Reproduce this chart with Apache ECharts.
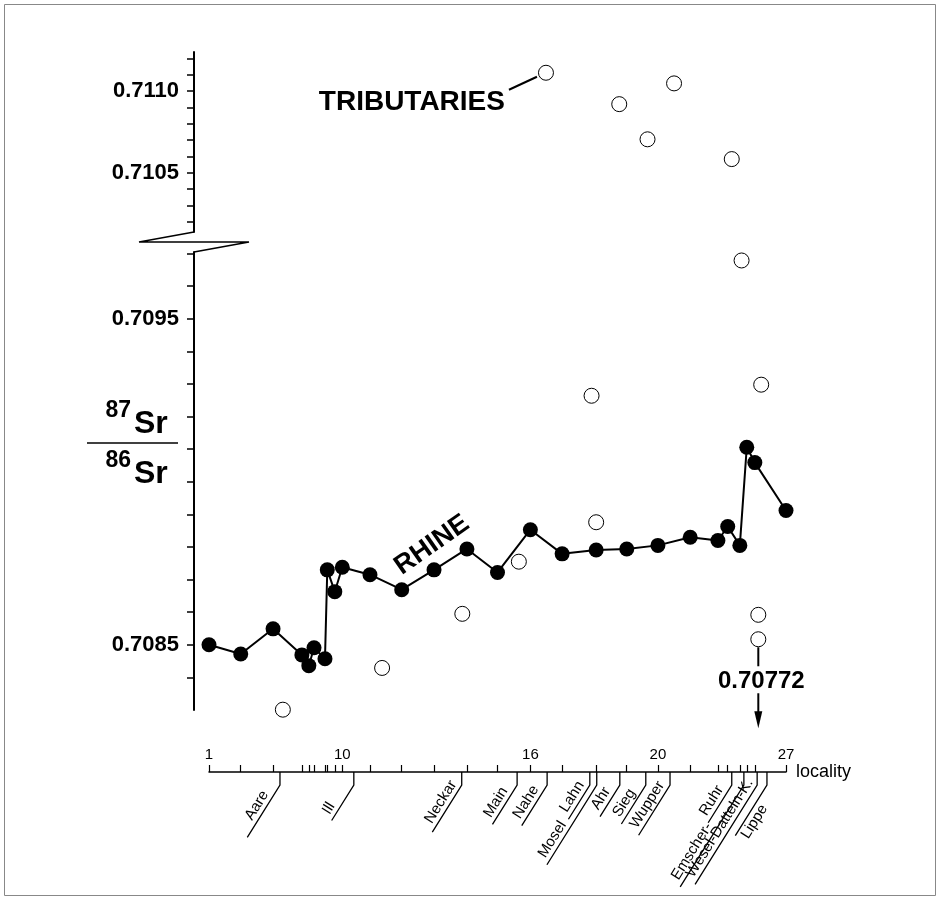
<!DOCTYPE html>
<html>
<head>
<meta charset="utf-8">
<title>87Sr/86Sr along the Rhine</title>
<script src="https://cdn.jsdelivr.net/npm/echarts@6.0.0/dist/echarts.min.js"></script>
<style>
  html, body { margin: 0; padding: 0; background: #fff; }
  #chart { width: 941px; height: 901px; }
</style>
</head>
<body>
<div id="chart"></div>
<script>
// sampling localities along the river, position in % of the drawn river section
const localities = [1, 2, 3, 4, 5, 6, 7, 8, 9, 10, 11, 12, 13, 14, 15, 16, 17, 18, 19, 20, 21, 22, 23, 24, 25, 26, 27];
const locPos = [0, 5.5, 11.1, 16.1, 17.3, 18.2, 20.1, 20.5, 21.8, 23.1, 27.9, 33.4, 39.0, 44.7, 50.0, 55.7,
  61.2, 67.1, 72.4, 77.8, 83.4, 88.2, 89.9, 92.0, 93.2, 94.6, 100];
const labelledLocalities = [1, 10, 16, 20, 27];

// Rhine main stream 87Sr/86Sr
const rhineSr = [0.708500, 0.708472, 0.708549, 0.708469, 0.708436, 0.708491, 0.708457, 0.708730, 0.708663,
  0.708738, 0.708715, 0.708669, 0.708730, 0.708794, 0.708722, 0.708853, 0.708779, 0.708791, 0.708794,
  0.708805, 0.708830, 0.708820, 0.708863, 0.708805, 0.709106, 0.709059, 0.708912];

// tributaries (open circles)
const tribPointPos = [58.4, 71.1, 80.6, 76.0, 90.6, 92.3, 95.7, 66.3, 67.1, 53.7, 43.9, 30.0, 12.8, 95.2, 95.2];
const tribPointSr = [0.711112, 0.710920, 0.711047, 0.710705, 0.710584, 0.709679, 0.709298, 0.709264, 0.708876,
  0.708755, 0.708595, 0.708429, 0.708301, 0.708592, 0.708517];
const offScalePos = 95.2;
const offScaleSr = 0.70772;

// tributary confluences marked under the locality axis
const tribNames = ['Aare', 'Ill', 'Neckar', 'Main', 'Nahe', 'Lahn', 'Mosel', 'Ahr', 'Sieg', 'Wupper',
  'Ruhr', 'Emscher-', 'Wesel-Datteln-K.', 'Lippe'];
const tribMouthPos = [12.3, 25.1, 43.8, 53.4, 58.6, 66.0, 67.2, 71.2, 75.7, 79.9, 90.6, 92.7, 95.0, 96.7];

// y axis ticks
const upTicks = [0.7102, 0.7103, 0.7104, 0.7105, 0.7106, 0.7107, 0.7108, 0.7109, 0.7110, 0.7111, 0.7112];
const upLabels = [0.7105, 0.7110];
const lowTicks = [0.7084, 0.7085, 0.7086, 0.7087, 0.7088, 0.7089, 0.7090, 0.7091, 0.7092, 0.7093, 0.7094,
  0.7095, 0.7096, 0.7097];
const lowLabels = [0.7085, 0.7095];

// layout
const gridLeft = 209, gridWidth = 577;
const upTop = 52, upHeight = 180, upMin = 0.710138, upMax = 0.711239;
const lowTop = 252, lowHeight = 458, lowMin = 0.7083, lowMax = 0.709705;
const axisOffset = 15, xAxisOffset = 62;
const FONT = '"Liberation Sans", Arial, sans-serif';
const breakSr = 0.71;

const chart = echarts.init(document.getElementById('chart'));

function yAxisOf(grid, min, max, ticks, labels) {
  return {
    gridIndex: grid, type: 'value', min: min, max: max, offset: axisOffset,
    axisLine: {show: true, onZero: false, lineStyle: {color: '#000', width: 2}},
    axisTick: {show: true, length: 7, customValues: ticks, lineStyle: {color: '#000', width: 1.5}},
    axisLabel: {
      customValues: labels, margin: 15, color: '#000', fontFamily: FONT,
      fontWeight: 'bold', fontSize: 22, formatter: v => v.toFixed(4)
    },
    splitLine: {show: false}
  };
}

const tribUpper = [], tribLower = [];
tribPointPos.forEach((p, i) => {
  (tribPointSr[i] > breakSr ? tribUpper : tribLower).push([p, tribPointSr[i]]);
});

const openCircle = {
  type: 'scatter', symbol: 'circle', symbolSize: 15, clip: false,
  itemStyle: {color: '#fff', borderColor: '#000', borderWidth: 1, opacity: 1}
};

chart.setOption({
  animation: false,
  backgroundColor: '#fff',
  grid: [
    {left: gridLeft, width: gridWidth, top: upTop, height: upHeight},
    {left: gridLeft, width: gridWidth, top: lowTop, height: lowHeight}
  ],
  xAxis: [
    {gridIndex: 0, type: 'value', min: 0, max: 100, show: false},
    {
      gridIndex: 1, type: 'value', min: 0, max: 100, position: 'bottom', offset: xAxisOffset,
      axisLine: {show: true, onZero: false, lineStyle: {color: '#000', width: 1.5}},
      axisTick: {show: true, inside: true, length: 7, customValues: locPos, lineStyle: {color: '#000', width: 1.2}},
      axisLabel: {
        inside: true, margin: 10, color: '#000', fontFamily: FONT, fontSize: 15,
        customValues: labelledLocalities.map(n => locPos[n - 1]),
        formatter: v => String(localities[locPos.findIndex(p => Math.abs(p - v) < 1e-6)])
      },
      splitLine: {show: false},
      name: 'locality', nameLocation: 'end', nameGap: 10,
      nameTextStyle: {color: '#000', fontFamily: FONT, fontSize: 18}
    }
  ],
  yAxis: [
    yAxisOf(0, upMin, upMax, upTicks, upLabels),
    yAxisOf(1, lowMin, lowMax, lowTicks, lowLabels)
  ],
  series: [
    Object.assign({name: 'tributaries', xAxisIndex: 0, yAxisIndex: 0, data: tribUpper}, openCircle),
    Object.assign({name: 'tributaries', xAxisIndex: 1, yAxisIndex: 1, data: tribLower}, openCircle),
    {
      name: 'Rhine', type: 'line', xAxisIndex: 1, yAxisIndex: 1, z: 3,
      data: locPos.map((p, i) => [p, rhineSr[i]]),
      symbol: 'circle', symbolSize: 15, showSymbol: true,
      lineStyle: {color: '#000', width: 2},
      itemStyle: {color: '#000'}
    }
  ]
});

// annotations drawn on top of the library's own scales
const g = [];
const stroke = (pts, w) => g.push({type: 'polyline', silent: true, shape: {points: pts}, style: {stroke: '#000', lineWidth: w || 1.3, fill: null}});
const label = (o) => g.push({type: 'text', silent: true, x: o.x, y: o.y, rotation: o.rot || 0,
  style: {text: o.text, align: o.align || 'center', verticalAlign: o.va || 'middle', fill: '#000',
    fontFamily: FONT, fontSize: o.size, fontWeight: o.weight || 'normal'}});

// frame
g.push({type: 'rect', silent: true, shape: {x: 4.5, y: 4.5, width: 931, height: 891},
  style: {fill: null, stroke: '#888', lineWidth: 1}});

// axis break
const ax = gridLeft - axisOffset, upBottom = upTop + upHeight, midY = (upBottom + lowTop) / 2;
stroke([[ax, upBottom], [ax - 55, midY], [ax + 55, midY], [ax, lowTop]], 1.5);

// y title 87Sr / 86Sr
label({text: '87', x: 131, y: 411, align: 'right', size: 23, weight: 'bold'});
label({text: 'Sr', x: 134, y: 424, align: 'left', size: 32, weight: 'bold'});
stroke([[87, 443], [178, 443]], 1.5);
label({text: '86', x: 131, y: 461, align: 'right', size: 23, weight: 'bold'});
label({text: 'Sr', x: 134, y: 474, align: 'left', size: 32, weight: 'bold'});

// TRIBUTARIES with leader to first tributary circle
const c0 = chart.convertToPixel({xAxisIndex: 0, yAxisIndex: 0}, tribUpper[0]);
label({text: 'TRIBUTARIES', x: c0[0] - 41, y: c0[1] + 30, align: 'right', size: 28, weight: 'bold'});
stroke([[c0[0] - 37, c0[1] + 17], [c0[0] - 9, c0[1] + 4]], 2);

// RHINE
label({text: 'RHINE', x: 432, y: 545, rot: 35 * Math.PI / 180, size: 27, weight: 'bold'});

// off-scale tributary value
const cOff = chart.convertToPixel({xAxisIndex: 1, yAxisIndex: 1}, [offScalePos, tribPointSr[tribPointSr.length - 1]]);
stroke([[cOff[0], cOff[1] + 8], [cOff[0], cOff[1] + 27]], 2);
label({text: offScaleSr.toFixed(5), x: cOff[0] + 3, y: cOff[1] + 42, size: 24, weight: 'bold'});
stroke([[cOff[0], cOff[1] + 54], [cOff[0], cOff[1] + 76]], 2);
g.push({type: 'polygon', silent: true, shape: {points: [[cOff[0] - 4, cOff[1] + 72], [cOff[0] + 4, cOff[1] + 72], [cOff[0], cOff[1] + 89]]},
  style: {fill: '#000'}});

// tributary mouths below the locality axis
const axisY = lowTop + lowHeight + xAxisOffset;
const ang = 58 * Math.PI / 180, ca = Math.cos(ang), sa = Math.sin(ang);
const drop = 13, tribFont = 15;
// distance along each leader line before the text ends, and line left over past its start
const leadOf = {Aare: 14, Ill: 28, Neckar: 2, Main: 10, Nahe: 8, Lahn: 3, Mosel: 50, Ahr: 10, Sieg: 12,
  Wupper: 3, Ruhr: 8, 'Emscher-': 52, 'Wesel-Datteln-K.': 0, Lippe: 19};
const tailOf = {Aare: 16, Ill: 3, Neckar: 6};
// labels written under their leader line instead of above it
const underLine = ['Lippe'];
const ctx = document.createElement('canvas').getContext('2d');
ctx.font = tribFont + 'px ' + FONT;
tribNames.forEach((name, i) => {
  const x0 = chart.convertToPixel({xAxisIndex: 1}, tribMouthPos[i]);
  const y1 = axisY + drop;
  const lead = leadOf[name];
  const under = underLine.indexOf(name) >= 0;
  const len = lead + ctx.measureText(name).width + (tailOf[name] !== undefined ? tailOf[name] : 4);
  stroke([[x0, axisY], [x0, y1], [x0 - len * ca, y1 + len * sa]], 1.3);
  label({text: name, x: x0 - lead * ca + (under ? 1 : -1), y: y1 + lead * sa + (under ? 1 : -1), rot: ang,
    align: 'right', va: under ? 'top' : 'bottom', size: tribFont});
});

chart.setOption({graphic: g});
</script>
</body>
</html>
